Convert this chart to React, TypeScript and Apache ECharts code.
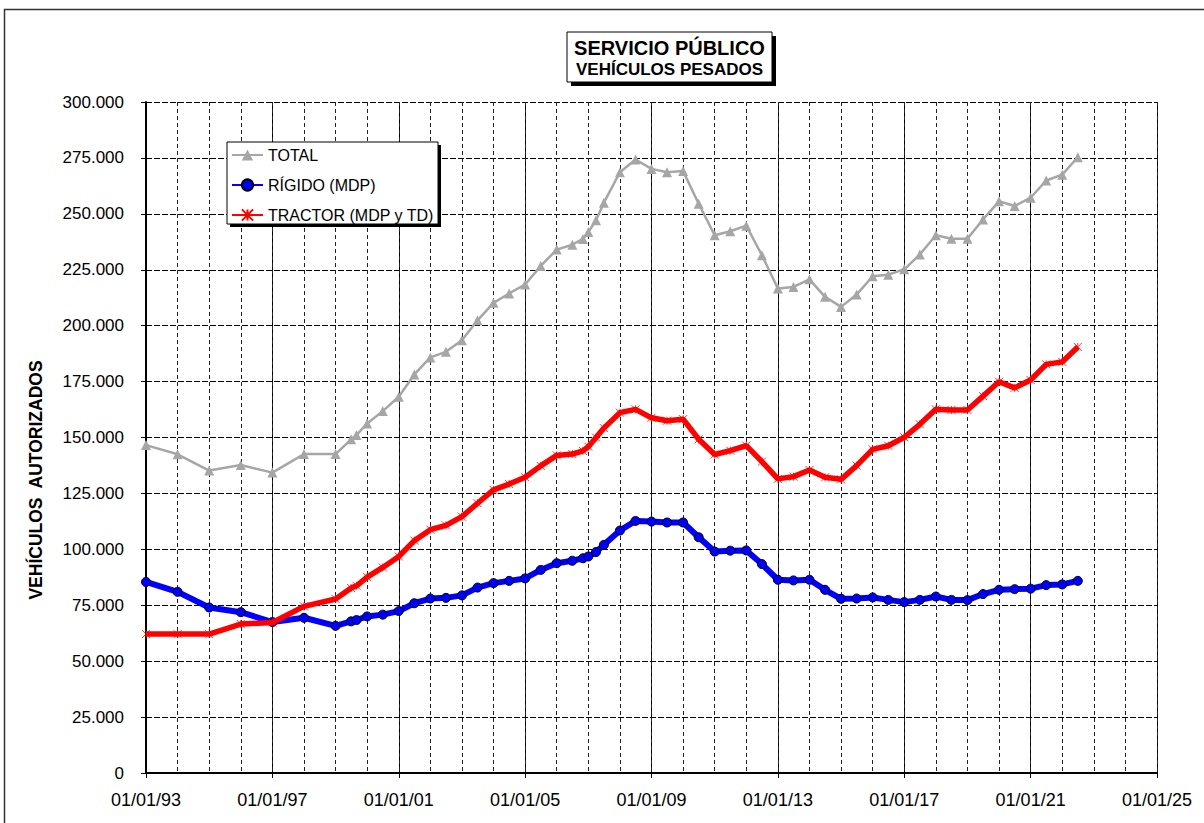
import React, { useEffect, useRef } from "react";
import * as echarts from "echarts";

const dates = [
  "1993-01-01", "1994-01-01", "1995-01-01", "1996-01-01", "1997-01-01", "1998-01-01", "1999-01-01",
  "1999-06-30", "1999-08-31", "2000-01-01", "2000-06-30", "2001-01-01", "2001-06-30", "2002-01-01",
  "2002-06-30", "2003-01-01", "2003-06-30", "2004-01-01", "2004-06-30", "2005-01-01", "2005-06-30",
  "2006-01-01", "2006-06-30", "2006-10-31", "2007-01-01", "2007-03-31", "2007-06-30", "2008-01-01",
  "2008-06-30", "2009-01-01", "2009-06-30", "2010-01-01", "2010-06-30", "2011-01-01", "2011-06-30",
  "2012-01-01", "2012-06-30", "2013-01-01", "2013-06-30", "2014-01-01", "2014-06-30", "2015-01-01",
  "2015-06-30", "2016-01-01", "2016-06-30", "2017-01-01", "2017-06-30", "2018-01-01", "2018-06-30",
  "2019-01-01", "2019-06-30", "2020-01-01", "2020-06-30", "2021-01-01", "2021-06-30", "2022-01-01",
  "2022-06-30",
];

const total = [
  146600, 142500, 135200, 137700, 134300, 142600, 142600,
  149200, 151100, 156300, 161800, 168200, 178200, 185800,
  188300, 193500, 202400, 210200, 214400, 218400, 226700,
  234000, 236200, 238800, 241900, 247100, 255000, 268600,
  274300, 270100, 268600, 269100, 254500, 240400, 242200,
  244700, 231500, 216600, 217300, 220700, 212900, 208400,
  213900, 222100, 222800, 225200, 231800, 240400, 238900,
  238900, 247500, 255600, 253500, 257200, 264900, 267500,
  275300,
];

const rigido = [
  85400, 81000, 74000, 71900, 67500, 69400, 65800,
  67800, 68400, 70000, 70800, 72400, 75900, 78000,
  78300, 79400, 82900, 84900, 85900, 87000, 90800,
  93800, 94900, 96000, 96800, 98800, 102000, 108400,
  112700, 112400, 112000, 112000, 105400, 99000, 99400,
  99500, 93400, 86400, 86100, 86400, 81900, 77900,
  78000, 78500, 77400, 76400, 77400, 78900, 77400,
  77300, 80000, 81900, 82200, 82400, 84000, 84300,
  85900,
];

const tractor = [
  62100, 62100, 62100, 66600, 67300, 74500, 77800,
  82700, 83700, 87600, 91900, 96800, 103900, 108800,
  110700, 114600, 120600, 126600, 129200, 132200, 137300,
  142000, 142600, 144000, 145900, 150000, 154200, 161100,
  162600, 158800, 157500, 158200, 149200, 142400, 144100,
  146400, 139200, 131500, 132500, 135500, 132200, 131300,
  137400, 144700, 146300, 150100, 155900, 162600, 162300,
  162300, 168500, 174900, 172200, 175700, 182700, 183800,
  190500,
];

const seriesNames = ["TOTAL", "RÍGIDO (MDP)", "TRACTOR (MDP y TD)"];
const startYear = 1993;
const endYear = 2025;
const yMax = 300000;
const yStep = 25000;

function toYearOffset(d: string): number {
  const [y, m, day] = d.split("-").map(Number);
  const start = Date.UTC(y, 0, 1);
  const end = Date.UTC(y + 1, 0, 1);
  const t = Date.UTC(y, m - 1, day);
  return y - startYear + (t - start) / (end - start);
}

function fmtThousands(v: number): string {
  return String(v).replace(/\B(?=(\d{3})+(?!\d))/g, ".");
}

const FONT = "'Liberation Sans', Arial, Helvetica, sans-serif";

export default function App() {
  const ref = useRef<HTMLDivElement>(null);

  useEffect(() => {
    if (!ref.current) return;
    const chart = echarts.init(ref.current, undefined, { renderer: "svg" });
    const xs = dates.map(toYearOffset);
    const span = endYear - startYear;

    const option: any = {
      animation: false,
      backgroundColor: "#ffffff",
      textStyle: { fontFamily: FONT },
      grid: { left: 146, right: 47, top: 102, bottom: 50, containLabel: false },
      legend: {
        data: seriesNames,
        orient: "vertical",
        left: 231,
        top: 147,
        itemWidth: 31,
        itemHeight: 14,
        itemGap: 14,
        padding: 0,
        z: 10,
        textStyle: { fontSize: 16, color: "#000", fontFamily: FONT },
      },
      xAxis: [
        {
          type: "value",
          min: 0,
          max: span,
          interval: 4,
          axisLine: { show: true, onZero: false, lineStyle: { color: "#000", width: 2 } },
          axisTick: { show: true, length: 5, lineStyle: { color: "#000" } },
          axisLabel: {
            margin: 18,
            fontSize: 18,
            color: "#000",
            fontFamily: FONT,
            formatter: (v: number) => "01/01/" + String((startYear + v) % 100).padStart(2, "0"),
          },
          splitLine: { show: true, lineStyle: { color: "#000", width: 1, type: "solid" } },
        },
        {
          type: "value",
          min: 0,
          max: span,
          interval: 1,
          axisLine: { show: false },
          axisTick: { show: false },
          axisLabel: { show: false },
          splitLine: { show: true, lineStyle: { color: "#222", width: 1, type: [4, 3] } },
        },
      ],
      yAxis: {
        type: "value",
        min: 0,
        max: yMax,
        interval: yStep,
        axisLine: { show: true, lineStyle: { color: "#000", width: 2 } },
        axisTick: { show: true, length: 5, lineStyle: { color: "#000" } },
        axisLabel: {
          margin: 22,
          fontSize: 17,
          color: "#000",
          fontFamily: FONT,
          formatter: (v: number) => fmtThousands(v),
        },
        splitLine: { show: true, lineStyle: { color: "#000", width: 1, type: [6, 2] } },
      },
      graphic: [
        {
          type: "rect",
          silent: true,
          z: 1,
          shape: { x: 4.5, y: 9.5, width: 1400, height: 1000 },
          style: { fill: "none", stroke: "#333", lineWidth: 1.5 },
        },
        {
          type: "rect",
          silent: true,
          z: 5,
          shape: { x: 571, y: 36, width: 205, height: 50 },
          style: { fill: "#000" },
        },
        {
          type: "rect",
          silent: true,
          z: 6,
          shape: { x: 567, y: 32, width: 205, height: 50 },
          style: { fill: "#fff", stroke: "#000", lineWidth: 1 },
        },
        {
          type: "text",
          silent: true,
          z: 7,
          x: 669.5,
          y: 48,
          style: {
            text: "SERVICIO PÚBLICO",
            font: "bold 20px " + FONT,
            fill: "#000",
            align: "center",
            verticalAlign: "middle",
          },
        },
        {
          type: "text",
          silent: true,
          z: 7,
          x: 669.5,
          y: 69.5,
          style: {
            text: "VEHÍCULOS PESADOS",
            font: "bold 17px " + FONT,
            fill: "#000",
            align: "center",
            verticalAlign: "middle",
          },
        },
        {
          type: "rect",
          silent: true,
          z: 5,
          shape: { x: 230, y: 145, width: 211, height: 82 },
          style: { fill: "#000" },
        },
        {
          type: "rect",
          silent: true,
          z: 6,
          shape: { x: 227, y: 142, width: 211, height: 82 },
          style: { fill: "#fff", stroke: "#000", lineWidth: 1 },
        },
        {
          type: "text",
          silent: true,
          z: 7,
          x: 36,
          y: 480,
          rotation: Math.PI / 2,
          style: {
            text: "VEHÍCULOS  AUTORIZADOS",
            font: "bold 17.5px " + FONT,
            fill: "#000",
            align: "center",
            verticalAlign: "middle",
          },
        },
      ],
      series: [
        {
          name: seriesNames[0],
          type: "line",
          xAxisIndex: 0,
          data: xs.map((x, i) => [x, total[i]]),
          showSymbol: true,
          symbol: "triangle",
          symbolSize: 10,
          lineStyle: { color: "#A6A6A6", width: 2.5 },
          itemStyle: { color: "#A6A6A6" },
          z: 2,
        },
        {
          name: seriesNames[1],
          type: "line",
          xAxisIndex: 0,
          data: xs.map((x, i) => [x, rigido[i]]),
          showSymbol: true,
          symbol: "circle",
          symbolSize: 9,
          lineStyle: { color: "#0000FF", width: 6 },
          itemStyle: { color: "#0000FF", borderColor: "#000", borderWidth: 1 },
          z: 3,
        },
        {
          name: seriesNames[2],
          type: "line",
          xAxisIndex: 0,
          data: xs.map((x, i) => [x, tractor[i]]),
          showSymbol: true,
          symbol: "path://M0,0L10,10M10,0L0,10M5,0L5,10",
          symbolSize: 8,
          lineStyle: { color: "#FF0000", width: 5.5 },
          itemStyle: { color: "#FF0000", borderColor: "#FF0000", borderWidth: 0.8 },
          z: 4,
        },
      ],
    };

    chart.setOption(option);
    return () => {
      chart.dispose();
    };
  }, []);

  return (
    <div
      ref={ref}
      style={{ position: "absolute", left: 0, top: 0, width: 1204, height: 823, background: "#fff" }}
    />
  );
}
